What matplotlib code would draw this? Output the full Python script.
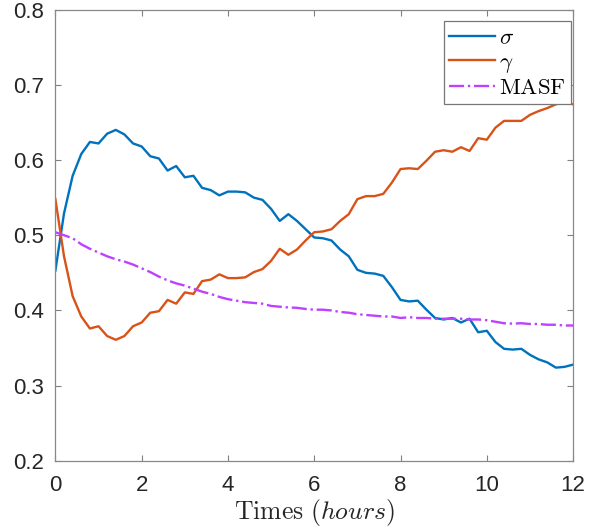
import matplotlib
matplotlib.use("Agg")
import matplotlib.pyplot as plt
import numpy as np

# time axis in hours, sampled every 0.2 h
times = np.round(np.arange(0, 12.01, 0.2), 1)

sigma = [0.453, 0.529, 0.579, 0.608, 0.624, 0.622, 0.635, 0.640, 0.634, 0.622,
         0.618, 0.605, 0.602, 0.586, 0.592, 0.577, 0.579, 0.563, 0.560, 0.553,
         0.558, 0.558, 0.557, 0.550, 0.547, 0.535, 0.519, 0.528, 0.519, 0.508,
         0.497, 0.496, 0.493, 0.481, 0.472, 0.454, 0.450, 0.449, 0.446, 0.431,
         0.414, 0.412, 0.413, 0.401, 0.390, 0.388, 0.390, 0.384, 0.389, 0.371,
         0.373, 0.358, 0.349, 0.348, 0.349, 0.341, 0.335, 0.331, 0.324, 0.325,
         0.328]

gamma = [0.548, 0.472, 0.419, 0.392, 0.376, 0.379, 0.366, 0.361, 0.366, 0.379,
         0.384, 0.397, 0.399, 0.414, 0.409, 0.424, 0.422, 0.439, 0.441, 0.448,
         0.443, 0.443, 0.444, 0.451, 0.455, 0.466, 0.482, 0.474, 0.481, 0.493,
         0.504, 0.505, 0.508, 0.519, 0.528, 0.548, 0.552, 0.552, 0.555, 0.570,
         0.588, 0.589, 0.588, 0.599, 0.611, 0.613, 0.611, 0.617, 0.612, 0.629,
         0.627, 0.643, 0.652, 0.652, 0.652, 0.660, 0.665, 0.669, 0.674, 0.677,
         0.674]

masf = [0.504, 0.500, 0.496, 0.488, 0.482, 0.477, 0.472, 0.468, 0.465, 0.461,
        0.456, 0.451, 0.445, 0.440, 0.436, 0.433, 0.429, 0.425, 0.422, 0.418,
        0.415, 0.413, 0.411, 0.410, 0.409, 0.406, 0.405, 0.404, 0.4035, 0.402,
        0.401, 0.401, 0.400, 0.398, 0.397, 0.395, 0.394, 0.393, 0.392, 0.392,
        0.390, 0.391, 0.390, 0.390, 0.389, 0.389, 0.389, 0.389, 0.388, 0.388,
        0.387, 0.385, 0.383, 0.3825, 0.383, 0.382, 0.382, 0.381, 0.381, 0.380,
        0.380]

plt.rcParams['mathtext.fontset'] = 'cm'
plt.rcParams['font.family'] = ['Liberation Sans', 'DejaVu Sans']

fig = plt.figure(figsize=(6.02, 5.31), dpi=100)
ax = fig.add_axes([0.092, 0.132, 0.86, 0.850])

ax.plot(times, sigma, color='#0072BD', lw=1.7, label=r'$\sigma$')
ax.plot(times, gamma, color='#D95319', lw=1.7, label=r'$\gamma$')
ax.plot(times, masf, color='#C040FF', lw=1.7, ls='-.', label=r'$\mathrm{MASF}$')

ax.set_xlim(0, 12)
ax.set_ylim(0.2, 0.8)
ax.set_xticks(np.arange(0, 13, 2))
ax.set_yticks(np.arange(0.2, 0.81, 0.1))
ax.set_yticklabels(['0.2', '0.3', '0.4', '0.5', '0.6', '0.7', '0.8'])

ax.tick_params(direction='in', length=4, width=0.8, colors='#808080',
               labelcolor='#262626', labelsize=16, top=True, right=True)
ax.tick_params(axis='x', pad=10)
ax.tick_params(axis='y', pad=8)
for sp in ax.spines.values():
    sp.set_color('#888888')
    sp.set_linewidth(0.9)

ax.set_xlabel(r'$\mathrm{Times}\ (hours)$', fontsize=18.5, color='#262626', labelpad=1)

leg = ax.legend(loc='upper right', bbox_to_anchor=(0.996, 0.974), borderaxespad=0,
                fontsize=16.5, fancybox=False, framealpha=1, edgecolor='#777777',
                handlelength=2.0, labelspacing=0.05, handletextpad=0.2,
                borderpad=0.2)
leg.get_frame().set_linewidth(0.9)

fig.savefig('out.png', dpi=100)
